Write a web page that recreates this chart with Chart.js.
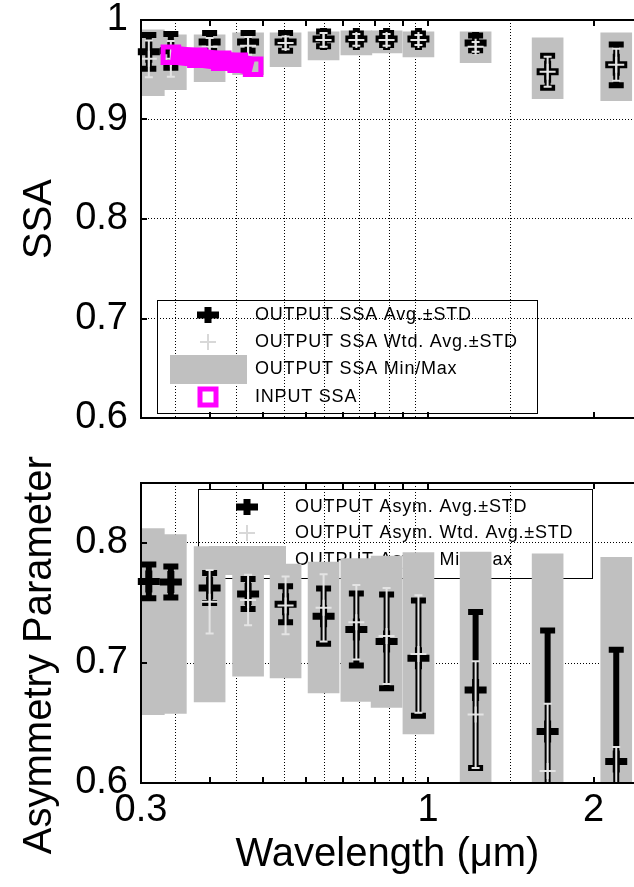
<!DOCTYPE html>
<html>
<head>
<meta charset="utf-8">
<script src="https://cdn.jsdelivr.net/npm/chart.js@4.4.1/dist/chart.umd.min.js"></script>
<style>
    html, body { margin: 0; padding: 0; background: #fff; }
    body { width: 634px; height: 887px; position: relative; overflow: hidden; }
    .panel { position: absolute; left: 0; width: 634px; }
    #ssa-wrap { top: 0; height: 440px; }
    #asym-wrap { top: 440px; height: 447px; }
</style>
</head>
<body>
<div class="panel" id="ssa-wrap"><canvas id="ssa-chart"></canvas></div>
<div class="panel" id="asym-wrap"><canvas id="asym-chart"></canvas></div>
<script>
// wavelengths (um) of the retrieval bands
const wavelengths = [0.31, 0.34, 0.40, 0.47, 0.55, 0.645, 0.74, 0.84, 0.96, 1.22, 1.65, 2.2];

// single scattering albedo
const ssaAvg    = [0.968, 0.969, 0.978, 0.978, 0.978, 0.981, 0.981, 0.981, 0.981, 0.977, 0.948, 0.955];
const ssaStd    = [0.017, 0.017, 0.009, 0.009, 0.009, 0.0075, 0.0055, 0.006, 0.0055, 0.0075, 0.016, 0.0205];
const ssaWtdAvg = [0.961, 0.961, 0.973, 0.974, 0.977, 0.980, 0.980, 0.980, 0.980, 0.973, 0.948, 0.955];
const ssaWtdStd = [0.0185, 0.018, 0.009, 0.009, 0.0065, 0.007, 0.006, 0.006, 0.005, 0.005, 0.015, 0.016];
const ssaMin    = [0.924, 0.930, 0.938, 0.945, 0.953, 0.960, 0.965, 0.967, 0.963, 0.957, 0.921, 0.919];
const ssaMax    = [0.990, 0.985, 0.985, 0.987, 0.987, 0.988, 0.989, 0.989, 0.988, 0.988, 0.982, 0.987];

const inputWavelengths = [0.34, 0.38, 0.42, 0.45, 0.48];
const inputSsa         = [0.965, 0.962, 0.959, 0.957, 0.953];

// asymmetry parameter
const asymAvg    = [0.768, 0.7675, 0.7625, 0.7575, 0.749, 0.739, 0.728, 0.718, 0.704, 0.6775, 0.643, 0.618];
const asymStd    = [0.014, 0.013, 0.0125, 0.0125, 0.015, 0.023, 0.030, 0.039, 0.048, 0.065, 0.084, 0.093];
const asymWtdAvg = [null, null, 0.751, 0.7525, 0.748, 0.746, 0.734, 0.7225, 0.7075, 0.657, 0.61, 0.585];
const asymWtdStd = [null, null, 0.0265, 0.021, 0.024, 0.028, 0.031, 0.040, 0.049, 0.0445, 0.056, 0.045];
const asymMin    = [0.657, 0.658, 0.6675, 0.689, 0.6875, 0.675, 0.668, 0.663, 0.641, 0.57, 0.55, 0.55];
const asymMax    = [0.812, 0.807, 0.797, 0.79, 0.7825, 0.784, 0.787, 0.789, 0.792, 0.7925, 0.791, 0.788];

// axes
const xGridTicks  = [0.3, 0.4, 0.5, 0.6, 0.7, 0.8, 0.9, 1, 2];
const xTickLabels = ['0.3', '', '', '', '', '', '', '1', '2'];
const ssaTicks  = [0.6, 0.7, 0.8, 0.9, 1];
const asymTicks = [0.6, 0.7, 0.8];

const ssaLegendLabels  = ['OUTPUT SSA Avg.\u00b1STD', 'OUTPUT SSA Wtd. Avg.\u00b1STD', 'OUTPUT SSA Min/Max', 'INPUT SSA'];
const asymLegendLabels = ['OUTPUT Asym. Avg.\u00b1STD', 'OUTPUT Asym. Wtd. Avg.\u00b1STD', 'OUTPUT Asym. Min/Max'];

const FONT = '"Liberation Sans", Arial, sans-serif';
const GRAY = 'rgb(192,192,192)';
const LIGHT = '#e4e4e4';
const MAGENTA = '#ff00ff';
const X_MAX = 2.37;

Chart.defaults.font.family = FONT;
Chart.defaults.color = '#000';

function drawSymbol(ctx, kind, x, y) {
    ctx.save();
    if (kind === 'avg') {
        ctx.strokeStyle = '#000';
        ctx.lineWidth = 7;
        ctx.beginPath();
        ctx.moveTo(x - 11, y); ctx.lineTo(x + 11, y);
        ctx.moveTo(x, y - 8); ctx.lineTo(x, y + 8);
        ctx.stroke();
    } else if (kind === 'wtd') {
        ctx.strokeStyle = '#d8d8d8';
        ctx.lineWidth = 2;
        ctx.beginPath();
        ctx.moveTo(x - 8, y); ctx.lineTo(x + 8, y);
        ctx.moveTo(x, y - 8); ctx.lineTo(x, y + 8);
        ctx.stroke();
    } else if (kind === 'range') {
        ctx.fillStyle = GRAY;
        ctx.fillRect(x - 38, y - 14, 77, 29);
    } else if (kind === 'input') {
        ctx.strokeStyle = MAGENTA;
        ctx.lineWidth = 5;
        ctx.strokeRect(x - 8, y - 8, 16, 16);
    }
    ctx.restore();
}

function drawLegend(ctx, spec) {
    ctx.save();
    ctx.strokeStyle = '#000';
    ctx.lineWidth = 1;
    ctx.strokeRect(spec.left + 0.5, spec.top + 0.5, spec.right - spec.left, spec.bottom - spec.top);
    ctx.font = '18px ' + FONT;
    if ('letterSpacing' in ctx) ctx.letterSpacing = '0.8px';
    ctx.textBaseline = 'middle';
    ctx.textAlign = 'left';
    spec.labels.forEach((label, i) => {
        const cy = spec.top + spec.rowY[i];
        drawSymbol(ctx, spec.symbols[i], spec.left + spec.symX, cy);
        ctx.fillStyle = '#000';
        ctx.fillText(label, spec.left + spec.textX, cy);
    });
    ctx.restore();
}

function drawErrorBars(chart, ds) {
    const { ctx, chartArea: a, scales: { x, y } } = chart;
    ctx.save();
    ctx.beginPath();
    ctx.rect(a.left - 12, a.top, a.right - a.left + 12, a.bottom - a.top);
    ctx.clip();
    ctx.strokeStyle = ds.pointBorderColor;
    ctx.lineWidth = ds.errLineWidth;
    ds.data.forEach((p, i) => {
        if (p.y == null) return;
        const px = x.getPixelForValue(p.x);
        const top = y.getPixelForValue(p.y + ds.errStd[i]);
        const bot = y.getPixelForValue(p.y - ds.errStd[i]);
        ctx.beginPath();
        ctx.moveTo(px, top); ctx.lineTo(px, bot);
        ctx.moveTo(px - ds.errCap, top); ctx.lineTo(px + ds.errCap, top);
        ctx.moveTo(px - ds.errCap, bot); ctx.lineTo(px + ds.errCap, bot);
        ctx.stroke();
    });
    ctx.restore();
}

function drawFrame(chart) {
    const { ctx, chartArea: a, scales: { x, y } } = chart;
    ctx.save();
    ctx.strokeStyle = '#000';
    ctx.lineWidth = 2;
    ctx.lineCap = 'square';
    ctx.beginPath();
    ctx.moveTo(a.right + 2, a.top); ctx.lineTo(a.left, a.top);
    ctx.lineTo(a.left, a.bottom); ctx.lineTo(a.right + 2, a.bottom);
    x.ticks.forEach(t => {
        const px = Math.round(x.getPixelForValue(t.value));
        if (px <= a.left + 1) return;
        ctx.moveTo(px, a.bottom); ctx.lineTo(px, a.bottom - 5);
        ctx.moveTo(px, a.top); ctx.lineTo(px, a.top + 5);
    });
    y.ticks.forEach(t => {
        const py = Math.round(y.getPixelForValue(t.value));
        if (py <= a.top + 1 || py >= a.bottom - 1) return;
        ctx.moveTo(a.left, py); ctx.lineTo(a.left + 5, py);
    });
    ctx.stroke();
    ctx.restore();
}

function makePanelPlugin(legendSpec) {
    return {
        id: 'panel',
        beforeDatasetsDraw(chart) { drawLegend(chart.ctx, legendSpec); },
        beforeDatasetDraw(chart, args) {
            const ds = chart.data.datasets[args.index];
            if (ds.errStd) drawErrorBars(chart, ds);
        },
        afterDatasetsDraw(chart) { drawFrame(chart); }
    };
}

function avgDataset(label, avg, std) {
    return {
        label,
        data: wavelengths.map((w, i) => ({ x: w, y: avg[i] })),
        errStd: std, errLineWidth: 6, errCap: 7.5,
        pointStyle: 'cross', pointRadius: 11, pointBorderWidth: 7,
        pointBorderColor: '#000', borderColor: '#000',
        clip: { left: 12, top: 0, right: 0, bottom: 0 }
    };
}

function wtdDataset(label, avg, std) {
    return {
        label,
        data: wavelengths.map((w, i) => ({ x: w, y: avg[i] })),
        errStd: std, errLineWidth: 2, errCap: 4,
        pointStyle: 'cross', pointRadius: 8, pointBorderWidth: 2,
        pointBorderColor: LIGHT, borderColor: LIGHT,
        clip: { left: 12, top: 0, right: 0, bottom: 0 }
    };
}

function rangeDataset(label, mins, maxs) {
    return {
        type: 'bar',
        label,
        data: wavelengths.map((w, i) => ({ x: w, y: [mins[i], maxs[i]] })),
        backgroundColor: GRAY,
        borderWidth: 0,
        barThickness: 31
    };
}

function makeOptions(yMin, yMax, yTicks, yTitle, showX, xHeight, topPad) {
    return {
        responsive: true,
        maintainAspectRatio: false,
        animation: false,
        events: [],
        layout: { autoPadding: false, padding: { top: topPad, left: 0, right: 0, bottom: 0 } },
        plugins: { legend: { display: false }, tooltip: { enabled: false } },
        scales: {
            x: {
                type: 'logarithmic',
                min: 0.3,
                max: X_MAX,
                offset: false,
                afterBuildTicks: s => { s.ticks = xGridTicks.map(v => ({ value: v })); },
                afterFit: s => { s.height = xHeight; s.paddingLeft = 0; s.paddingRight = 0; },
                grid: { color: '#000', lineWidth: 1, drawTicks: false },
                border: { display: true, color: '#000', width: 2, dash: [1, 2] },
                ticks: {
                    display: showX, autoSkip: false, maxRotation: 0, minRotation: 0,
                    padding: 9, color: '#000',
                    font: { size: 38, lineHeight: 1 },
                    callback: (v, i) => xTickLabels[i]
                },
                title: {
                    display: showX, text: 'Wavelength (\u03bcm)', color: '#000',
                    font: { size: 40 }, padding: { top: 0, bottom: 8 }
                }
            },
            y: {
                min: yMin,
                max: yMax,
                afterBuildTicks: s => { s.ticks = yTicks.map(v => ({ value: v })); },
                afterFit: s => { s.width = 141; s.paddingTop = 0; s.paddingBottom = 0; },
                grid: { color: '#000', lineWidth: 1, drawTicks: false },
                border: { display: true, color: '#000', width: 2, dash: [1, 2] },
                ticks: {
                    padding: 13, color: '#000',
                    font: { size: 38, lineHeight: 1 },
                    callback: v => String(v)
                },
                title: {
                    display: true, text: yTitle, color: '#000',
                    font: { size: 40 }, padding: { top: 16, bottom: 0 }
                }
            }
        }
    };
}

new Chart(document.getElementById('ssa-chart'), {
    type: 'scatter',
    data: {
        datasets: [
            {
                label: 'INPUT SSA',
                data: inputWavelengths.map((w, i) => ({ x: w, y: inputSsa[i] })),
                showLine: true,
                borderColor: MAGENTA,
                borderWidth: 19,
                borderCapStyle: 'butt',
                pointStyle: 'rect',
                pointRadius: 11,
                pointBorderWidth: 5,
                pointBorderColor: MAGENTA,
                pointBackgroundColor: 'rgba(0,0,0,0)'
            },
            wtdDataset('OUTPUT SSA Wtd. Avg.\u00b1STD', ssaWtdAvg, ssaWtdStd),
            avgDataset('OUTPUT SSA Avg.\u00b1STD', ssaAvg, ssaStd),
            rangeDataset('OUTPUT SSA Min/Max', ssaMin, ssaMax)
        ]
    },
    options: makeOptions(0.6, 1, ssaTicks, 'SSA', false, 22, 20),
    plugins: [makePanelPlugin({
        left: 157, top: 300, right: 537, bottom: 413,
        rowY: [15, 42, 69, 97], symX: 51, textX: 98,
        labels: ssaLegendLabels, symbols: ['avg', 'wtd', 'range', 'input']
    })]
});

new Chart(document.getElementById('asym-chart'), {
    type: 'scatter',
    data: {
        datasets: [
            wtdDataset('OUTPUT Asym. Wtd. Avg.\u00b1STD', asymWtdAvg, asymWtdStd),
            avgDataset('OUTPUT Asym. Avg.\u00b1STD', asymAvg, asymStd),
            rangeDataset('OUTPUT Asym. Min/Max', asymMin, asymMax)
        ]
    },
    options: makeOptions(0.6, 0.85, asymTicks, 'Asymmetry Parameter    ', true, 104, 43),
    plugins: [makePanelPlugin({
        left: 198, top: 49, right: 592, bottom: 138,
        rowY: [18, 44, 71], symX: 49, textX: 97,
        labels: asymLegendLabels, symbols: ['avg', 'wtd', 'range']
    })]
});
</script>
</body>
</html>
